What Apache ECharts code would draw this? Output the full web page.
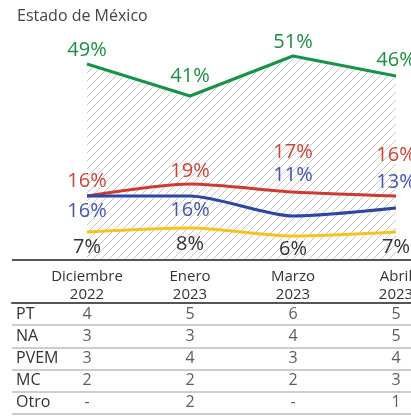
<!DOCTYPE html>
<html>
<head>
<meta charset="utf-8">
<script src="https://cdn.jsdelivr.net/npm/echarts@6/dist/echarts.min.js"></script>
<style>
  html, body { margin: 0; padding: 0; background: #fff; }
  #main { width: 411px; height: 416px; }
</style>
</head>
<body>
<div id="main"></div>
<script>
// datos
var meses = ['Diciembre\n2022', 'Enero\n2023', 'Marzo\n2023', 'Abril\n2023'];
var verde = [49, 41, 51, 46];
var rojo = [16, 19, 17, 16];
var azul = [16, 16, 11, 13];
var amarillo = [7, 8, 6, 7];

var filas = ['PT', 'NA', 'PVEM', 'MC', 'Otro'];
var tabla = {
  PT: [4, 5, 6, 5],
  NA: [3, 3, 4, 5],
  PVEM: [3, 4, 3, 4],
  MC: [2, 2, 2, 3],
  Otro: ['-', 2, '-', 1]
};

// posicion de cada etiqueta (arriba / abajo, distancia)
var posVerde = [['top', 3], ['top', 9], ['top', 3], ['top', 5]];
var posRojo = [['top', 4], ['top', 2], ['top', 29], ['top', 30]];
var posAzul = [['bottom', 5], ['bottom', 4], ['top', 30], ['top', 15]];
var posAmarillo = [['bottom', 5], ['bottom', 6], ['bottom', 3], ['bottom', 5]];

var fuente = '"Open Sans", "Noto Sans", sans-serif';

// rayado diagonal para el area verde
function rayado() {
  var c = document.createElement('canvas');
  c.width = 8; c.height = 8;
  var ctx = c.getContext('2d');
  ctx.strokeStyle = '#c8c8c8';
  ctx.lineWidth = 1;
  ctx.beginPath();
  ctx.moveTo(0, 8); ctx.lineTo(8, 0);
  ctx.moveTo(-1, 1); ctx.lineTo(1, -1);
  ctx.moveTo(7, 9); ctx.lineTo(9, 7);
  ctx.stroke();
  return c;
}

function conEtiquetas(vals, pos) {
  return vals.map(function (v, i) {
    return { value: v, label: { position: pos[i][0], distance: pos[i][1] } };
  });
}

function linea(nombre, vals, pos, color, colorTexto, extra) {
  var s = {
    name: nombre,
    type: 'line',
    xAxisIndex: 0,
    yAxisIndex: 0,
    data: conEtiquetas(vals, pos),
    symbol: 'circle',
    symbolSize: 1,
    showSymbol: true,
    itemStyle: { color: 'rgba(0,0,0,0)' },
    smooth: 0.25,
    lineStyle: { color: color, width: 3 },
    label: {
      show: true,
      formatter: '{c}%',
      color: colorTexto,
      fontSize: 20,
      fontFamily: fuente
    },
    z: 3
  };
  for (var k in extra) s[k] = extra[k];
  return s;
}

var celdas = [];
filas.forEach(function (f) {
  tabla[f].forEach(function (v, i) {
    celdas.push([i, f, v]);
  });
});

var myChart = echarts.init(document.getElementById('main'));
myChart.setOption({
  animation: false,
  backgroundColor: '#fff',
  title: {
    text: 'Estado de México',
    left: 12,
    top: 3,
    textStyle: { color: '#444', fontSize: 16, fontWeight: 'normal', fontFamily: fuente }
  },
  grid: [
    { left: 87, right: 15, top: 20, height: 240, outerBoundsMode: 'none' },
    { left: 12, right: 0, top: 303, height: 111, outerBoundsMode: 'none' }
  ],
  xAxis: [
    {
      gridIndex: 0,
      type: 'category',
      data: meses,
      boundaryGap: false,
      axisLine: { show: false },
      axisTick: { show: false },
      axisLabel: {
        margin: 8,
        color: '#333',
        fontSize: 15,
        lineHeight: 18,
        fontFamily: fuente,
        alignMaxLabel: 'center',
        alignMinLabel: 'center'
      }
    },
    {
      gridIndex: 1,
      type: 'value',
      position: 'top',
      min: -0.728,
      max: 3.146,
      axisLine: { show: true, lineStyle: { color: '#555', width: 2 } },
      axisTick: { show: false },
      axisLabel: { show: false },
      splitLine: { show: false }
    }
  ],
  yAxis: [
    {
      gridIndex: 0,
      type: 'value',
      min: 0,
      max: 60,
      show: false
    },
    {
      gridIndex: 1,
      type: 'category',
      data: filas,
      inverse: true,
      axisLine: { show: false },
      axisTick: { show: false },
      axisLabel: {
        align: 'left',
        margin: -4,
        color: '#333',
        fontSize: 16,
        fontFamily: fuente
      },
      splitLine: { show: true, lineStyle: { color: '#bdbdbd', width: 1.5 } }
    }
  ],
  graphic: [
    {
      type: 'line',
      shape: { x1: 12, y1: 260, x2: 411, y2: 260 },
      style: { stroke: '#555', lineWidth: 2 },
      z: 5
    }
  ],
  series: [
    linea('Verde', verde, posVerde, '#17924a', '#1f8c45', {
      smooth: false,
      areaStyle: { color: { image: rayado(), repeat: 'repeat' }, opacity: 1 },
      z: 2
    }),
    linea('Rojo', rojo, posRojo, '#cc3b33', '#c8453c'),
    linea('Azul', azul, posAzul, '#2f45a4', '#4556a6'),
    linea('Amarillo', amarillo, posAmarillo, '#f5c41c', '#333'),
    {
      type: 'scatter',
      xAxisIndex: 1,
      yAxisIndex: 1,
      data: celdas,
      symbolSize: 0,
      silent: true,
      label: {
        show: true,
        position: 'inside',
        formatter: function (p) { return p.value[2]; },
        color: '#333',
        fontSize: 16,
        fontFamily: fuente
      }
    }
  ]
});
</script>
</body>
</html>
